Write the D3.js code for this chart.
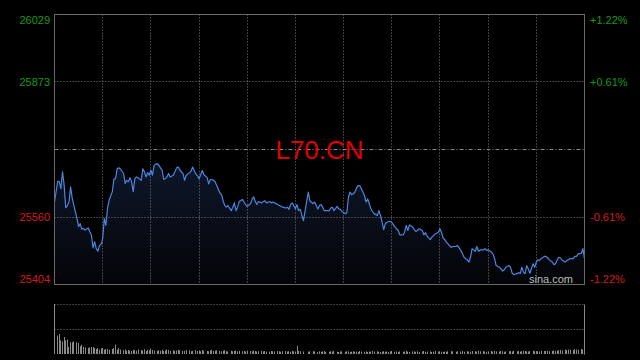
<!DOCTYPE html>
<html><head><meta charset="utf-8">
<script src="https://cdn.jsdelivr.net/npm/d3@7"></script>
<style>html,body{margin:0;padding:0;background:#000;}svg{display:block;}</style>
</head><body><svg id="c" width="640" height="360"></svg>
<script>
const title = "L70.CN";
const prevClose = 25716.5;
const priceTicks = [26029, 25873, 25560, 25404];
const pctLabels = ["+1.22%", "+0.61%", "-0.61%", "-1.22%"];
const minutes = [0,2,3,4,5,6,7,8,9,10,11,12,14,15,16,17,18,19,21,22,23,24,25,26,27,28,29,30,31,32,33,34,36,37,38,39,40,41,43,44,45,46,47,48,49,50,51,52,54,55,56,57,58,59,60,61,62,64,65,66,67,68,69,70,71,72,74,75,76,77,78,80,81,82,84,85,86,88,89,90,91,92,93,95,96,97,98,99,100,101,103,104,105,106,107,108,110,111,112,113,114,115,117,118,119,120,122,123,124,125,126,127,129,130,131,132,134,135,136,137,139,140,141,142,144,145,146,147,148,149,150,151,152,153,155,158,159,161,162,164,165,166,167,168,169,171,172,173,174,176,177,178,179,181,182,183,184,185,186,187,188,189,190,191,193,194,195,196,197,198,199,201,202,203,204,205,206,207,208,209,210,212,213,214,215,217,218,219,220,221,223,224,225,226,227,229,230,231,232,234,235,236,237,239,240,241,242,243,244,245,247,248,250,251,253,254,255,257,258,259,260,262,263,264,265,267,268,269,270,272,273,274,275,277,278,279,280,281,283,284,285,286,288,289,290,291,292,293,294,295,296,298,299,300,301,302,303,305,306,307,308,310,311,312,313,314,315,316,318,319,320,321,323,324,325,326,328,329,330];
const prices = [25595,25643,25642,25626,25665,25634,25582,25586,25595,25630,25605,25588,25557,25538,25545,25532,25534,25530,25535,25526,25518,25489,25503,25487,25481,25494,25497,25510,25557,25541,25580,25599,25619,25648,25649,25672,25674,25672,25661,25638,25645,25642,25651,25642,25619,25649,25653,25651,25645,25672,25665,25653,25663,25657,25669,25657,25680,25684,25680,25674,25669,25648,25649,25653,25661,25653,25657,25665,25674,25676,25669,25661,25645,25657,25663,25666,25676,25660,25656,25649,25658,25668,25658,25652,25637,25647,25647,25645,25642,25633,25616,25612,25598,25587,25583,25587,25575,25583,25593,25575,25583,25596,25601,25595,25589,25585,25591,25601,25607,25596,25589,25596,25593,25596,25598,25593,25596,25593,25595,25593,25589,25587,25585,25583,25581,25583,25578,25589,25593,25587,25579,25589,25575,25578,25552,25618,25598,25591,25595,25579,25587,25589,25583,25575,25575,25575,25581,25583,25575,25585,25579,25578,25573,25568,25570,25606,25618,25612,25614,25618,25627,25633,25633,25626,25610,25595,25602,25591,25579,25573,25568,25564,25575,25564,25548,25531,25545,25548,25550,25550,25548,25537,25533,25529,25519,25519,25525,25541,25529,25542,25537,25531,25527,25529,25533,25529,25519,25524,25516,25508,25514,25517,25521,25525,25533,25524,25511,25508,25502,25498,25490,25492,25492,25494,25483,25475,25467,25461,25456,25467,25487,25481,25492,25481,25484,25484,25487,25483,25484,25479,25475,25464,25448,25444,25440,25435,25438,25444,25448,25443,25430,25427,25429,25432,25429,25444,25432,25429,25448,25440,25430,25452,25444,25456,25461,25460,25464,25469,25469,25466,25461,25456,25450,25452,25461,25467,25466,25460,25456,25460,25461,25464,25464,25469,25469,25475,25476,25487,25464];
const volumes = [5000,1830,2000,1370,1270,1700,1370,1430,700,1170,1170,1270,1170,1100,770,930,700,670,630,630,700,700,600,500,600,430,570,600,430,500,500,430,500,600,930,430,600,430,
380,450,320,400,350,300,420,380,330,450,400,350,480,300,420,370,530,400,350,300,
380,330,420,300,350,450,400,320,380,300,350,420,370,300,330,400,350,280,320,380,
300,350,270,400,330,300,280,350,420,300,330,370,300,270,330,380,300,250,330,280,
300,350,270,320,280,300,250,330,300,270,350,300,250,280,330,270,300,250,230,300,
270,250,300,280,230,270,300,250,280,230,300,270,250,830,300,280,250,230,270,300,
250,200,270,230,250,300,200,230,270,250,300,230,200,250,270,230,280,250,200,230,
270,230,250,200,300,250,230,270,200,250,230,300,250,270,230,200,250,270,230,250,
200,270,300,230,250,200,270,230,250,300,230,200,270,250,230,270,200,250,300,230,
250,270,200,230,300,250,270,230,200,250,230,270,300,250,230,270,250,300,230,270,
250,230,300,270,250,330,270,300,250,230,270,300,250,330,270,250,300,270,230,250,
270,300,250,330,270,300,250,270,330,300,270,250,300,330,270,300,270,250,330,300,
300,330,270,300,350,300,330,370,400,350,430,400,450,430,400,500,450,430,500,
450,830];
const gridMinutes = [30,60,90,120,150,180,210,240,270,300];

const svg = d3.select("#c");
const font = "Arial, 'Liberation Sans', sans-serif";
const x = d3.scaleLinear().domain([0, 330]).range([54.5, 584.5]);
const y = d3.scaleLinear().domain([25404, 26029]).range([284.5, 14.5]);
const yv = d3.scaleLinear().domain([0, 5000]).range([354.5, 304.5]);

svg.append("rect").attr("width",640).attr("height",360).attr("fill","#000");

const defs = svg.append("defs");
const g = defs.append("linearGradient").attr("id","fillg").attr("gradientUnits","userSpaceOnUse")
  .attr("x1",0).attr("x2",0).attr("y1",y(25690)).attr("y2",y(25404));
g.append("stop").attr("offset",0).attr("stop-color","#0e172b");
g.append("stop").attr("offset",1).attr("stop-color","#030406");

const pts = minutes.map((m,i)=>({m, p:prices[i], v:volumes[i]}));

// area
svg.append("path").datum(pts)
  .attr("d", d3.area().x(d=>x(d.m)).y0(y(25404)).y1(d=>y(d.p)))
  .attr("fill","url(#fillg)");

// vertical grid
svg.selectAll(".vg").data(gridMinutes).enter().append("line")
  .attr("x1",d=>Math.round(x(d)-0.5)+0.5).attr("x2",d=>Math.round(x(d)-0.5)+0.5)
  .attr("y1",y(26029)).attr("y2",y(25404))
  .attr("stroke","#7a7a7a").attr("stroke-width",1).attr("stroke-dasharray","1,2");
// horizontal grid
svg.selectAll(".hg").data([priceTicks[1], priceTicks[2]]).enter().append("line")
  .attr("x1",x(0)).attr("x2",x(330))
  .attr("y1",d=>Math.round(y(d)-0.5)+0.5).attr("y2",d=>Math.round(y(d)-0.5)+0.5)
  .attr("stroke","#7a7a7a").attr("stroke-width",1).attr("stroke-dasharray","1,2");
svg.append("line").attr("x1",x(0)).attr("x2",x(330))
  .attr("y1",Math.round(y(prevClose)-0.5)+0.5).attr("y2",Math.round(y(prevClose)-0.5)+0.5)
  .attr("stroke","#8a8a8a").attr("stroke-width",1).attr("stroke-dasharray","4,2,1,2");

// title
svg.append("text").attr("x",x(165)).attr("y",159).attr("text-anchor","middle")
  .attr("font-family",font).attr("font-size",26).attr("fill","#e00000").text(title);

// price line
svg.append("path").datum(pts)
  .attr("d", d3.line().x(d=>x(d.m)).y(d=>y(d.p)))
  .attr("fill","none").attr("stroke","#4a86e0").attr("stroke-width",1.2).attr("stroke-linejoin","round");

// border
svg.append("rect").attr("x",x(0)).attr("y",y(26029)).attr("width",x(330)-x(0)).attr("height",y(25404)-y(26029))
  .attr("fill","none").attr("stroke","#6a6a6a").attr("stroke-width",1);

// watermark
svg.append("text").attr("x",573).attr("y",283).attr("text-anchor","end")
  .attr("font-family",font).attr("font-size",11).attr("fill","#bdbdbd").text("sina.com");

// axis labels
const offs = [9.5, 4, 4, -2];
svg.selectAll(".ll").data(priceTicks).enter().append("text")
  .attr("x",50).attr("y",(d,i)=>y(d)+offs[i]).attr("text-anchor","end")
  .attr("font-family",font).attr("font-size",11)
  .attr("fill",d=>d>prevClose?"#169a16":"#d41a1a").text(d=>d);
svg.selectAll(".rl").data(pctLabels).enter().append("text")
  .attr("x",590).attr("y",(d,i)=>y(priceTicks[i])+offs[i]).attr("text-anchor","start")
  .attr("font-family",font).attr("font-size",11)
  .attr("fill",(d,i)=>priceTicks[i]>prevClose?"#169a16":"#d41a1a").text(d=>d);

// volume panel
svg.selectAll(".vgl").data([5000, 2500]).enter().append("line")
  .attr("x1",x(0)).attr("x2",x(330))
  .attr("y1",d=>yv(d)).attr("y2",d=>yv(d))
  .attr("stroke","#7a7a7a").attr("stroke-width",1).attr("stroke-dasharray","1,2");
svg.selectAll(".vb").data(pts).enter().append("rect")
  .attr("x",d=>Math.round(x(d.m)-0.5)).attr("width",1)
  .attr("y",d=>yv(d.v)-0.5).attr("height",d=>yv(0)-yv(d.v))
  .attr("fill","#8a8a8a");
svg.append("line").attr("x1",x(330)).attr("x2",x(330)).attr("y1",yv(5000)).attr("y2",yv(0))
  .attr("stroke","#8a8a8a").attr("stroke-width",1);
</script></body></html>
